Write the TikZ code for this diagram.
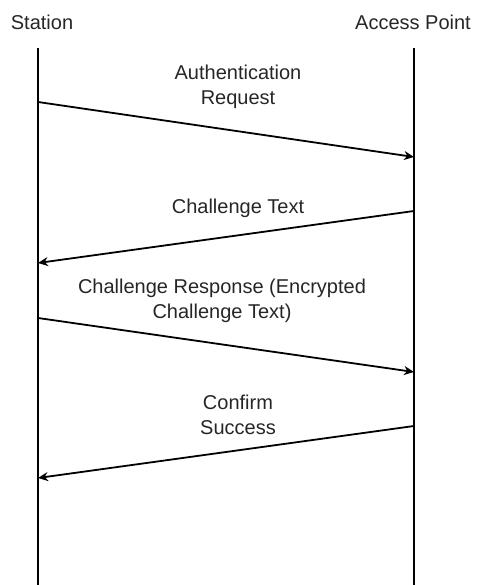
\documentclass[tikz,border=0pt]{standalone}
\usepackage{fontspec}
\setmainfont{Liberation Sans}
\usetikzlibrary{arrows.meta}

\begin{document}
\begin{tikzpicture}[x=1pt, y=1pt]
        \tikzstyle{every node}=[font=\fontsize{20}{25}\selectfont, align=center, inner sep=0pt, text=black!85]
        \tikzstyle{lifeline}=[line width=2pt]
        \tikzstyle{msg}=[line width=1.8pt, -{Stealth[length=10pt, width=9pt]}]

        \useasboundingbox (0,0) rectangle (476,585);

% Station on the left, access point on the right, messages go down in time.

        \node (station) at (42,563) {Station};
        \node (ap) at (413,563) {Access Point};

        \coordinate (stop) at (38,537);   \coordinate (sbot) at (38,0);
        \coordinate (atop) at (414,537);  \coordinate (abot) at (414,0);
        \draw[lifeline, line width=2.8pt] (stop) -- (sbot);
        \draw[lifeline] (atop) -- (abot);

        \coordinate (s1) at (38,483);  \coordinate (a1) at (414,428);
        \coordinate (a2) at (414,374); \coordinate (s2) at (38,322);
        \coordinate (s3) at (38,267);  \coordinate (a3) at (414,213);
        \coordinate (a4) at (414,159); \coordinate (s4) at (38,107);

        \draw[msg] (s1) -- (a1);
        \draw[msg] (a2) -- (s2);
        \draw[msg] (s3) -- (a3);
        \draw[msg] (a4) -- (s4);

        \node (authreq) at (238,498) {Authentication\\Request};
        \node (chtext) at (238,377) {Challenge Text};
        \node (chresp) at (222,284) {Challenge Response (Encrypted\\Challenge Text)};
        \node (confirm) at (238,170) {Confirm\\Success};

    \end{tikzpicture}
\end{document}
